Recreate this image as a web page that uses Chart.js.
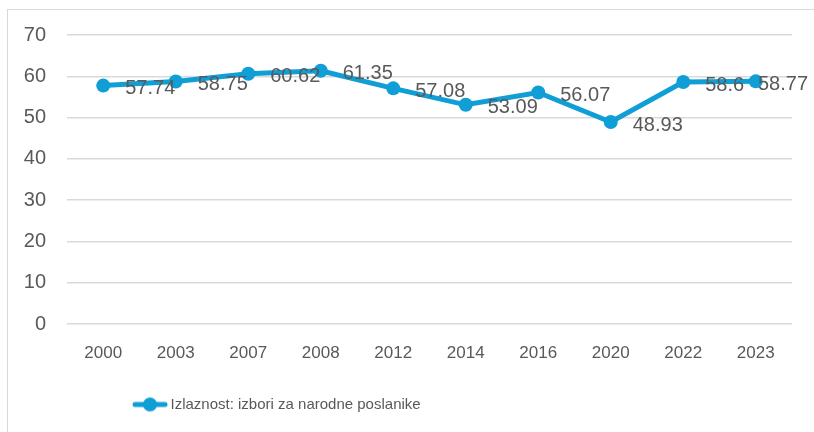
<!DOCTYPE html>
<html>
<head>
<meta charset="utf-8">
<script src="https://cdn.jsdelivr.net/npm/chart.js@4/dist/chart.umd.min.js"></script>
<style>
  html, body { margin: 0; padding: 0; background: #fff; overflow: hidden; }
  #frame { position: absolute; left: 7px; top: 9px; width: 900px; height: 500px; border: 1px solid #d9d9d9; }
  #wrap { position: absolute; left: 0; top: 0; width: 814px; height: 432px; }
</style>
</head>
<body>
<div id="frame"></div>
<div id="wrap"><canvas id="c" width="814" height="432"></canvas></div>
<script>
const categories = ["2000", "2003", "2007", "2008", "2012", "2014", "2016", "2020", "2022", "2023"];
const turnout = [57.74, 58.75, 60.62, 61.35, 57.08, 53.09, 56.07, 48.93, 58.6, 58.77];
const seriesName = "Izlaznost: izbori za narodne poslanike";
const yTicks = [0, 10, 20, 30, 40, 50, 60, 70];

const BLUE = "#0F9ED5";
const GRAY = "#595959";
const NARROW = "'Liberation Sans Narrow', 'Arial Narrow', 'Liberation Sans', Arial, sans-serif";
const WIDE = "'Liberation Sans', Arial, sans-serif";

// legend marker: line with a circle
const marker = document.createElement('canvas');
marker.width = 36; marker.height = 16;
(function () {
  const m = marker.getContext('2d');
  m.strokeStyle = BLUE; m.lineWidth = 5; m.lineCap = 'round';
  m.beginPath(); m.moveTo(3, 8); m.lineTo(33, 8); m.stroke();
  m.fillStyle = BLUE; m.beginPath(); m.arc(18, 8, 7, 0, Math.PI * 2); m.fill();
})();

const dataLabels = {
  id: 'dataLabels',
  afterDatasetsDraw(chart) {
    const ctx = chart.ctx;
    const meta = chart.getDatasetMeta(0);
    ctx.save();
    ctx.font = "20px " + WIDE;
    ctx.fillStyle = GRAY;
    ctx.textAlign = 'left';
    ctx.textBaseline = 'middle';
    const rightLimit = chart.width - 6;
    meta.data.forEach((pt, i) => {
      const txt = String(chart.data.datasets[0].data[i]);
      const w = ctx.measureText(txt).width;
      const x = Math.min(pt.x + 22, rightLimit - w);
      ctx.fillText(txt, x, pt.y + 3);
    });
    ctx.restore();
  }
};

// place the legend like the original (left of centre)
const legendShift = {
  id: 'legendShift',
  afterLayout(chart) {
    const lg = chart.legend;
    if (!lg) return;
    const w = lg.right - lg.left;
    lg.left = 126;
    lg.right = 126 + w;
  }
};

new Chart(document.getElementById('c'), {
  type: 'line',
  data: {
    labels: categories,
    datasets: [{
      label: seriesName,
      data: turnout,
      borderColor: BLUE,
      backgroundColor: BLUE,
      borderWidth: 5,
      pointRadius: 7,
      pointHoverRadius: 7,
      pointBackgroundColor: BLUE,
      pointBorderColor: BLUE,
      pointBorderWidth: 0,
      tension: 0,
      pointStyle: 'circle'
    }]
  },
  options: {
    responsive: false,
    animation: false,
    layout: { padding: { top: 35, right: 22, left: 0, bottom: 10 } },
    plugins: {
      tooltip: { enabled: false },
      legend: {
        position: 'bottom',
        align: 'start',
        labels: {
          usePointStyle: true,
          pointStyle: marker,
          pointStyleWidth: 26,
          boxHeight: 16,
          color: GRAY,
          font: { family: NARROW, size: 15 },
          padding: 11,
          generateLabels(chart) {
            return [{ text: seriesName, pointStyle: marker, fillStyle: BLUE, strokeStyle: BLUE, lineWidth: 0, datasetIndex: 0, fontColor: GRAY }];
          }
        }
      }
    },
    scales: {
      x: {
        offset: true,
        grid: { display: false, drawTicks: false },
        border: { display: false },
        ticks: { color: GRAY, font: { family: NARROW, size: 17 }, padding: 19, maxRotation: 0 },
        afterFit(s) { s.height = 62; }
      },
      y: {
        min: 0, max: 70,
        afterBuildTicks(s) { s.ticks = yTicks.map(v => ({ value: v })); },
        grid: { color: '#d9d9d9', lineWidth: 1.5, drawTicks: false },
        border: { display: false },
        ticks: { color: GRAY, font: { family: WIDE, size: 20 }, padding: 21 },
        afterFit(s) { s.width = 67; }
      }
    }
  },
  plugins: [dataLabels, legendShift]
});
</script>
</body>
</html>
